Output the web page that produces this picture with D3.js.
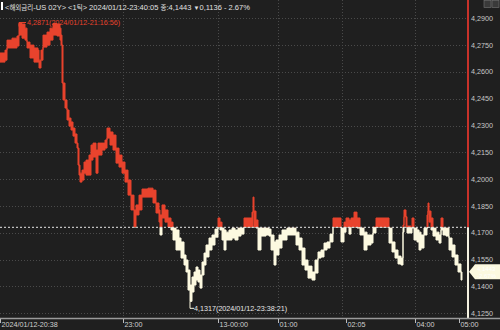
<!DOCTYPE html>
<html><head><meta charset="utf-8">
<script src="https://cdn.jsdelivr.net/npm/d3@7"></script>
<style>
html,body{margin:0;padding:0;background:#1f1f1f;}
svg{display:block;}
text{font-family:"Liberation Sans Narrow","Liberation Sans","Noto Sans CJK KR",sans-serif;}
</style></head>
<body>
<svg id="c" width="500" height="330"></svg>
<script>
// ---- data (tick index, high / low of each column) ----
const tickIndex = [0,5,7,12,17,19,22,25,27,30,34,38,39,41,43,47,50,53,57,60,61,62,63,65,67,69,71,73,75,77,78,79,80,82,84,86,89,91,93,96,98,102,105,107,110,113,116,119,122,125,128,131,134,136,139,142,148,153,156,159,160,162,165,168,171,173,176,179,181,184,186,188,190,192,194,196,198,200,202,204,206,209,212,215,218,220,222,224,226,229,232,235,238,241,244,249,252,253,254,256,258,261,266,269,271,274,276,279,282,287,293,296,299,302,305,308,312,315,318,321,324,327,330,333,338,341,344,346,349,351,354,357,360,364,367,371,373,376,386,389,392,395,398,401,403,404,406,407,411,412,414,417,419,421,424,427,428,429,431,433,436,439,441,443,446,449,452,455,458,461,462];
const hiValues = [4.2706,4.2722,4.2778,4.2789,4.2801,4.2871,4.2868,4.2845,4.2767,4.2750,4.2734,4.2722,4.2666,4.2722,4.2806,4.2823,4.2845,4.2871,4.2868,4.2845,4.2806,4.2750,4.2538,4.2443,4.2387,4.2342,4.2320,4.2286,4.2253,4.2202,4.2174,4.2079,4.2034,4.2051,4.2096,4.2107,4.2135,4.2191,4.2202,4.2163,4.2202,4.2202,4.2219,4.2286,4.2264,4.2247,4.2174,4.2135,4.2096,4.2051,4.1995,4.1911,4.1828,4.1856,4.1911,4.1945,4.1950,4.1939,4.1867,4.1828,4.1800,4.1856,4.1828,4.1783,4.1760,4.1727,4.1716,4.1671,4.1649,4.1576,4.1548,4.1492,4.1408,4.1453,4.1481,4.1509,4.1492,4.1464,4.1537,4.1587,4.1632,4.1671,4.1688,4.1721,4.1783,4.1760,4.1727,4.1716,4.1704,4.1716,4.1727,4.1716,4.1727,4.1727,4.1783,4.1783,4.1816,4.1900,4.1822,4.1772,4.1727,4.1727,4.1727,4.1721,4.1688,4.1649,4.1660,4.1688,4.1716,4.1727,4.1727,4.1704,4.1671,4.1615,4.1548,4.1514,4.1481,4.1548,4.1593,4.1604,4.1643,4.1649,4.1693,4.1783,4.1783,4.1727,4.1760,4.1783,4.1772,4.1783,4.1816,4.1783,4.1727,4.1704,4.1688,4.1688,4.1732,4.1783,4.1783,4.1727,4.1649,4.1604,4.1570,4.1559,4.1744,4.1828,4.1790,4.1738,4.1727,4.1783,4.1727,4.1716,4.1704,4.1688,4.1727,4.1800,4.1867,4.1822,4.1783,4.1727,4.1704,4.1688,4.1783,4.1727,4.1727,4.1671,4.1632,4.1576,4.1526,4.1481,4.1481];
const loValues = [4.2655,4.2666,4.2734,4.2734,4.2745,4.2806,4.2789,4.2778,4.2734,4.2678,4.2655,4.2655,4.2622,4.2666,4.2739,4.2750,4.2778,4.2806,4.2801,4.2778,4.2750,4.2538,4.2443,4.2398,4.2331,4.2297,4.2275,4.2241,4.2202,4.2174,4.2079,4.2023,4.1984,4.1995,4.2034,4.2023,4.2023,4.2107,4.2124,4.2034,4.2135,4.2163,4.2174,4.2230,4.2191,4.2163,4.2090,4.2068,4.2034,4.1984,4.1911,4.1828,4.1732,4.1800,4.1828,4.1900,4.1900,4.1867,4.1811,4.1760,4.1688,4.1783,4.1760,4.1732,4.1716,4.1660,4.1604,4.1604,4.1559,4.1520,4.1481,4.1380,4.1317,4.1369,4.1408,4.1436,4.1425,4.1391,4.1464,4.1520,4.1565,4.1604,4.1632,4.1676,4.1732,4.1716,4.1660,4.1604,4.1660,4.1660,4.1671,4.1660,4.1682,4.1693,4.1732,4.1732,4.1732,4.1816,4.1732,4.1727,4.1604,4.1682,4.1688,4.1682,4.1604,4.1520,4.1576,4.1615,4.1660,4.1688,4.1688,4.1632,4.1604,4.1520,4.1492,4.1447,4.1436,4.1475,4.1559,4.1565,4.1604,4.1615,4.1649,4.1732,4.1732,4.1649,4.1704,4.1732,4.1693,4.1732,4.1732,4.1727,4.1688,4.1604,4.1632,4.1643,4.1699,4.1732,4.1732,4.1643,4.1593,4.1559,4.1526,4.1520,4.1704,4.1790,4.1732,4.1699,4.1699,4.1727,4.1660,4.1649,4.1604,4.1615,4.1688,4.1727,4.1822,4.1760,4.1716,4.1682,4.1660,4.1643,4.1716,4.1688,4.1682,4.1604,4.1565,4.1520,4.1481,4.1436,4.1436];
const baseValue = 4.1731;
const yTicks = [4.2900,4.2750,4.2600,4.2450,4.2300,4.2150,4.2000,4.1850,4.1700,4.1550,4.1400,4.1250];
const xTickIndex = [0,123,218,278,346,415,459];
const xTickLabels = ["2024/01/12-20:38","23:00","13-00:00","01:00","02:05","04:00","05:00"];
const xGridIndex = [123,218,278,342,415];
const highPoint = {idx:19, value:4.2871, label:"4,2871(2024/01/12-21:16:56)"};
const lowPoint = {idx:190, value:4.1317, label:"4,1317(2024/01/12-23:38:21)"};
const lastValue = 4.1443;
const lastTag = ["4,1443","-2.67%"];
// [text, font size] – Hangul glyphs are set smaller to match the narrow bitmap font
const titleParts = [["<",7.5],["해외금리",6.5],["-US 02Y> <1",7.5],["틱",6.5],["> 2024/01/12-23:40:05 ",7.5],["종",6.5],[":4,1443 ",7.5],["▼",6],["0,1136 - 2.67%",7.5]];

// ---- chart ----
const W = 500, H = 330;
const plotR = 467, axisY = 318;
const svg = d3.select("#c");
const x = d3.scaleLinear().domain([0,467]).range([0,plotR]);
const y = d3.scaleLinear().domain([4.2900,4.1250]).range([18.3,313.3]);
const fmt = v => d3.format(".4f")(v).replace(".", ",");

svg.append("rect").attr("width",W).attr("height",H).attr("fill","#1f1f1f");

// grid
const grid = svg.append("g");
grid.selectAll(".hg").data(yTicks).join("line")
  .attr("x1",0).attr("x2",plotR).attr("y1",d=>Math.round(y(d))+0.5).attr("y2",d=>Math.round(y(d))+0.5)
  .attr("stroke","#4a4a4a").attr("stroke-dasharray","1,2");
grid.selectAll(".vg").data(xGridIndex).join("line")
  .attr("y1",0).attr("y2",axisY).attr("x1",d=>Math.round(x(d))+0.5).attr("x2",d=>Math.round(x(d))+0.5)
  .attr("stroke","#4a4a4a").attr("stroke-dasharray","1,2");

// series
const data = tickIndex.map((t,i)=>({t, hi:hiValues[i], lo:loValues[i]}));
const yb = y(baseValue);
const defs = svg.append("defs");
defs.append("clipPath").attr("id","clipTop").append("rect").attr("x",0).attr("y",0).attr("width",plotR).attr("height",yb);
defs.append("clipPath").attr("id","clipBot").append("rect").attr("x",0).attr("y",yb).attr("width",plotR).attr("height",axisY-yb);
const area = d3.area().curve(d3.curveStepAfter).x(d=>x(d.t)).y0(d=>y(d.lo)).y1(d=>y(d.hi));
[["clipTop","#e8432d"],["clipBot","#fcf9e0"]].forEach(([clip,col])=>{
  svg.append("path").datum(data).attr("d",area).attr("clip-path",`url(#${clip})`)
    .attr("fill",col).attr("stroke",col).attr("stroke-width",1);
});

// baseline dashed
svg.append("line").attr("x1",0).attr("x2",plotR).attr("y1",yb).attr("y2",yb)
  .attr("stroke","#e8e8e8").attr("stroke-dasharray","2,2").attr("stroke-width",1);

// right border colored
svg.append("line").attr("x1",plotR+1).attr("x2",plotR+1).attr("y1",0).attr("y2",yb)
  .attr("stroke","#c8322a").attr("stroke-width",2);
svg.append("line").attr("x1",plotR+1).attr("x2",plotR+1).attr("y1",yb).attr("y2",axisY)
  .attr("stroke","#f4f1e0").attr("stroke-width",2);

// x axis line
svg.append("line").attr("x1",0).attr("x2",W).attr("y1",axisY+0.5).attr("y2",axisY+0.5)
  .attr("stroke","#9a9a9a").attr("stroke-width",1.5);

// x labels
const xl = svg.append("g");
xl.selectAll("line").data(xTickIndex).join("line")
  .attr("x1",d=>Math.round(x(d))+0.5).attr("x2",d=>Math.round(x(d))+0.5).attr("y1",axisY+1).attr("y2",axisY+5)
  .attr("stroke","#bbb");
xl.selectAll("text").data(xTickIndex).join("text")
  .attr("x",d=>x(d)+1.5).attr("y",327).attr("fill","#d0d0d0").attr("font-size",7.2)
  .text((d,i)=>xTickLabels[i]);

// y labels
svg.append("g").selectAll("text").data(yTicks).join("text")
  .attr("x",471).attr("y",d=>y(d)+2.5).attr("fill","#c8c8c8").attr("font-size",7.2)
  .text(d=>fmt(d));

// current value tag
const yl = y(lastValue) - 7;
svg.append("path").attr("d",`M469,${yl} L475,${yl-7.5} L500,${yl-7.5} L500,${yl+7.5} L475,${yl+7.5} Z`)
  .attr("fill","#fcf9e0");
svg.append("text").attr("x",477).attr("y",yl-1).attr("fill","#ffffff").attr("font-size",6).text(lastTag[0]);
svg.append("text").attr("x",477).attr("y",yl+6).attr("fill","#ffffff").attr("font-size",6).text(lastTag[1]);

// high annotation
const hx = x(highPoint.idx), hy = y(highPoint.value);
svg.append("path").attr("d",`M${hx},${hy+3} L${hx},${hy-1} L${hx+7},${hy-1}`).attr("fill","none").attr("stroke","#e8432d");
svg.append("text").attr("x",hx+8).attr("y",hy+1.5).attr("fill","#e8432d").attr("font-size",7.2).text(highPoint.label);

// low annotation
const lx = x(lowPoint.idx), ly = y(lowPoint.value);
svg.append("path").attr("d",`M${lx},${ly} L${lx},${ly+7} L${lx+4},${ly+7}`).attr("fill","none").attr("stroke","#fcf9e0");
svg.append("text").attr("x",lx+4).attr("y",ly+9.5).attr("fill","#e8e8e8").attr("font-size",7.2).text(lowPoint.label);

// title
svg.append("rect").attr("x",1).attr("y",2).attr("width",2).attr("height",8).attr("fill","#ffffff");
const tt = svg.append("text").attr("x",5).attr("y",9.5).attr("fill","#e0e0e0");
titleParts.forEach(([s,fs])=>tt.append("tspan").attr("font-size",fs).text(s));

// top right buttons
[484,492].forEach(bx=>{
  svg.append("rect").attr("x",bx).attr("y",0.5).attr("width",7).attr("height",7).attr("fill","#3a3a3a").attr("stroke","#777").attr("stroke-width",0.6);
});
</script>
</body></html>
